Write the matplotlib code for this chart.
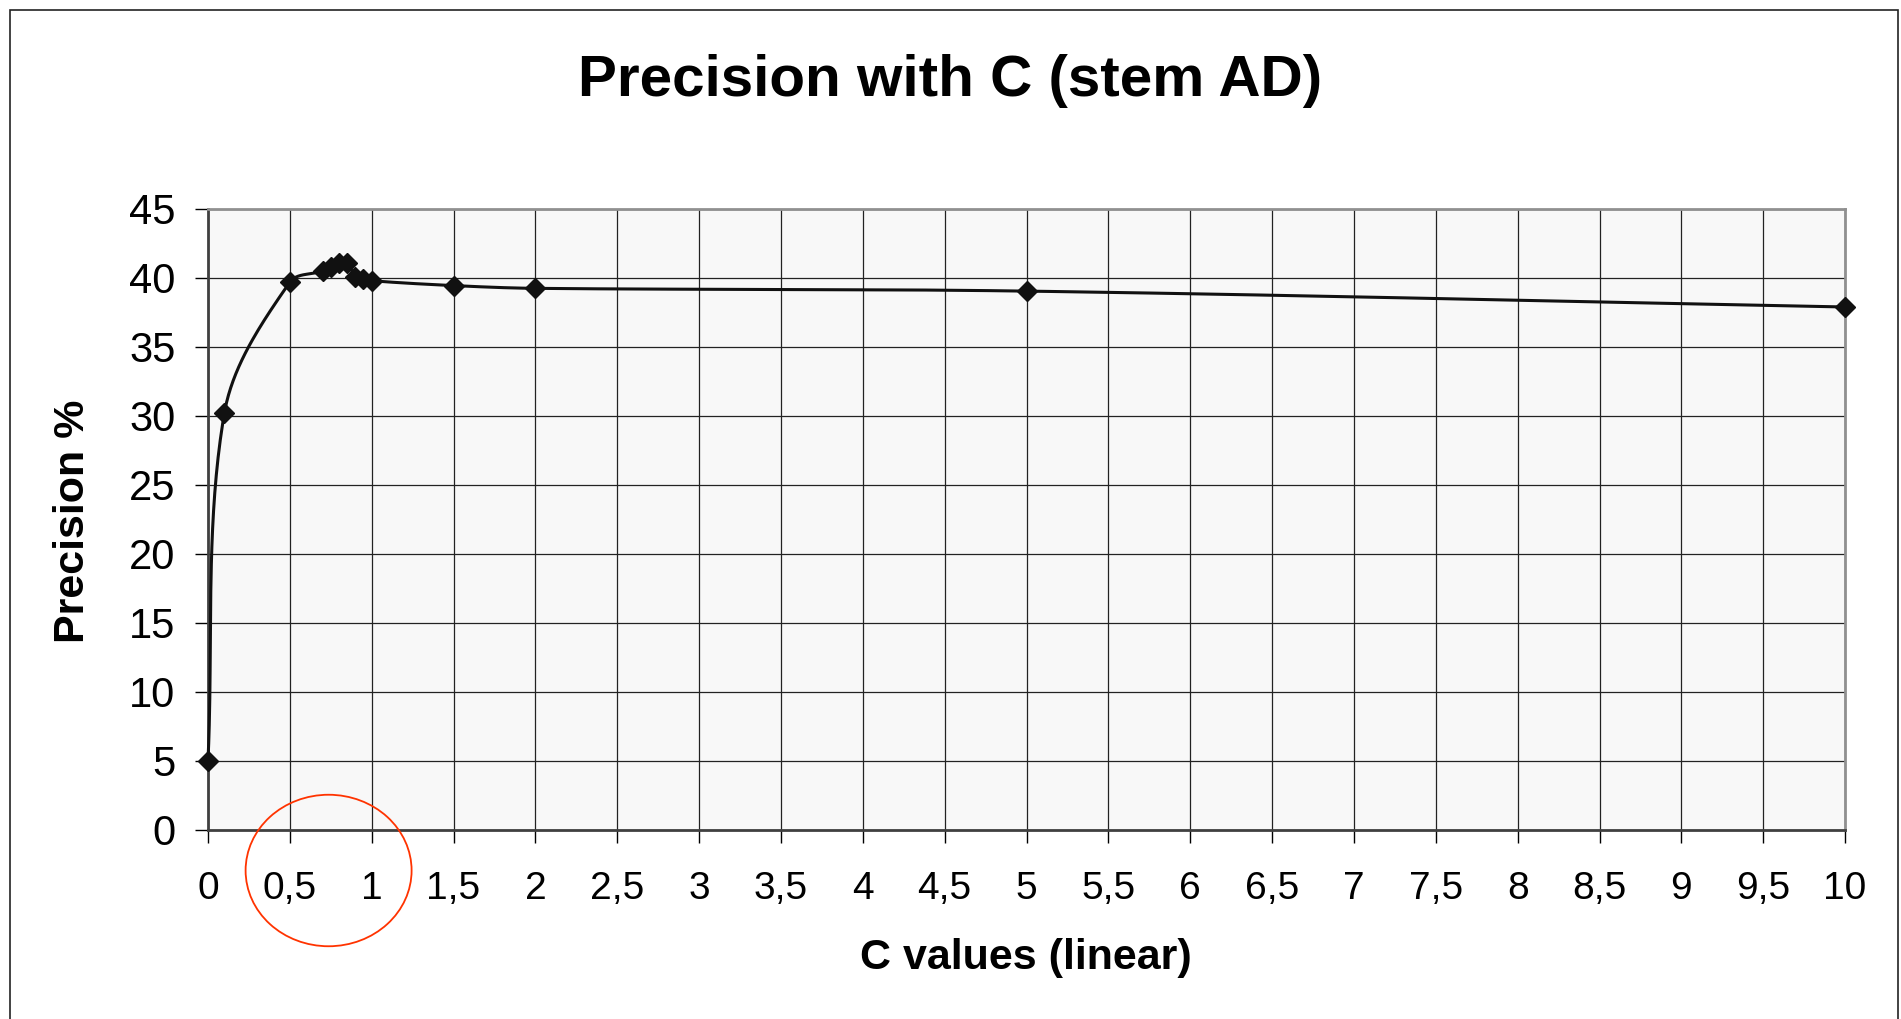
import numpy as np
import matplotlib
matplotlib.use("Agg")
import matplotlib.pyplot as plt
from matplotlib.patches import Ellipse, Rectangle
from matplotlib.ticker import MultipleLocator, FuncFormatter

plt.rcParams['font.family'] = ['Liberation Sans', 'DejaVu Sans']

# precision measured for each C value (stemmed AD)
c_values = [0, 0.1, 0.5, 0.7, 0.75, 0.8, 0.85, 0.9, 0.95, 1.0, 1.5, 2, 5, 10]
precision = [5.0, 30.2, 39.7, 40.5, 40.8, 41.1, 41.1, 40.1, 39.95, 39.8, 39.45, 39.25, 39.05, 37.9]

title = "Precision with C (stem AD)"
x_label = "C values (linear)"
y_label = "Precision %"


def smooth_path(ax, xs, ys, n=40):
    # smoothed line through the points, built in display space;
    # handle length follows each segment so short hops do not overshoot
    pts = ax.transData.transform(np.column_stack([xs, ys]))
    p = np.vstack([pts[0], pts, pts[-1]])

    def unit(v):
        L = np.hypot(*v)
        return v / L if L > 0 else v

    out = []
    for i in range(1, len(p) - 2):
        p0, p1, p2, p3 = p[i - 1], p[i], p[i + 1], p[i + 2]
        seg = np.hypot(*(p2 - p1)) / 3.0
        c1 = p1 + unit(p2 - p0) * seg
        c2 = p2 - unit(p3 - p1) * seg
        t = np.linspace(0, 1, n)[:, None]
        b = ((1 - t) ** 3) * p1 + 3 * ((1 - t) ** 2) * t * c1 + 3 * (1 - t) * t ** 2 * c2 + t ** 3 * p2
        out.append(b if i == 1 else b[1:])
    out = np.vstack(out)
    return ax.transData.inverted().transform(out)


fig = plt.figure(figsize=(19.01, 10.19), dpi=100)
ax = fig.add_axes([0.1094, 0.1855, 0.8612, 0.6094])
ax.set_facecolor('#f8f8f8')
ax.set_xlim(0, 10)
ax.set_ylim(0, 45)

ax.xaxis.set_major_locator(MultipleLocator(0.5))
ax.yaxis.set_major_locator(MultipleLocator(5))
ax.xaxis.set_major_formatter(FuncFormatter(lambda v, _: f"{v:g}".replace('.', ',')))
ax.grid(True, color='#222222', linewidth=0.9)
ax.set_axisbelow(True)

for side in ['top', 'right']:
    ax.spines[side].set_color('#909090')
    ax.spines[side].set_linewidth(2)
for side in ['left', 'bottom']:
    ax.spines[side].set_color('#404040')
    ax.spines[side].set_linewidth(2)

ax.tick_params(axis='both', direction='out', length=9.5, width=1, color='black')
ax.tick_params(axis='x', pad=20, labelsize=28)
ax.tick_params(axis='y', pad=14, labelsize=30)

curve = smooth_path(ax, c_values, precision)
ax.plot(curve[:, 0], curve[:, 1], color='#111111', linewidth=2.2, zorder=3,
        clip_on=False)
ax.plot(c_values, precision, linestyle='none', marker='D', markersize=10,
        color='#111111', zorder=4, clip_on=False)

fig.text(0.5, 1 - 81 / 1019, title, ha='center', va='center',
         fontsize=42, fontweight='bold')
fig.text(0.5396, 1 - 958 / 1019, x_label, ha='center', va='center',
         fontsize=31, fontweight='bold')
fig.text(73 / 1901, 1 - 521 / 1019, y_label, ha='center', va='center',
         rotation=90, fontsize=31, fontweight='bold')

# red ring around the 0,5 - 1 region
fig.add_artist(Ellipse((328.6 / 1901, 1 - 870.5 / 1019), 166 / 1901, 151.5 / 1019,
                       fill=False, edgecolor='#ff3300', linewidth=1.3))

# outer chart border
fig.add_artist(Rectangle((10 / 1901, -0.01), 1888 / 1901, 1.005 - 5 / 1019,
                         fill=False, edgecolor='#222222', linewidth=1.2))

fig.savefig("out.png", dpi=100)
